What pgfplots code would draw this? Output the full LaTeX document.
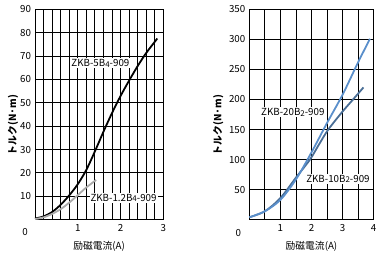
\documentclass[border=0pt]{standalone}
\usepackage{pgfplots}
\pgfplotsset{compat=1.18}
\usepackage{fontspec}
\setmainfont{Noto Sans CJK JP}
\definecolor{lblue}{HTML}{5A8FCB}
\definecolor{dblue}{HTML}{4A6E96}
\definecolor{lgray}{HTML}{AAAAAA}
\newcommand{\sub}[1]{\raisebox{-0.15ex}{\footnotesize #1}}
\newcommand{\fs}{\fontsize{9.8}{11}\selectfont}
\begin{document}
\begin{tikzpicture}
\pgfplotsset{
  common/.style={
    scale only axis, anchor=origin,
    height=210.4bp,
    axis line style={black, line width=0.9bp},
    grid=both,
    major grid style={black, line width=0.9bp},
    minor grid style={black, line width=0.9bp},
    major tick length=0pt, minor tick length=0pt,
    tick label style={font=\fs},
    /pgf/number format/assume math mode=true,
    yticklabel style={xshift=-0.5bp},
    xticklabel style={yshift=-1bp},
    xlabel style={at={(rel axis cs:0.5,0)}, anchor=center, yshift=-27bp, font=\fs},
    clip=false,
  }
}
\path[use as bounding box] (0bp,0bp) rectangle (389bp,257bp);
% Left chart
\begin{axis}[common,
  at={(35bp,37.3bp)}, width=128.3bp,
  xmin=0, xmax=3, ymin=0, ymax=90,
  xtick={0,1,2,3}, xticklabels={,1,2,3},
  minor x tick num=4,
  ytick={0,10,20,30,40,50,60,70,80,90}, yticklabels={,10,20,30,40,50,60,70,80,90},
  xlabel={励磁電流(A)},
]
\addplot[black, line width=1.8bp, smooth] coordinates {
 (0,0.5) (0.2,1.4) (0.4,3.3) (0.6,6.4) (0.8,10.4) (1.0,15.2) (1.2,21.3) (1.4,29.2)
 (1.6,37.6) (1.8,45.6) (2.0,52.9) (2.2,59.5) (2.4,65.7) (2.6,71.3) (2.86,77.5)};
\addplot[lgray, line width=1.8bp, smooth] coordinates {
 (0,0.3) (0.2,1) (0.4,2.5) (0.6,4.5) (0.8,7.3) (1.0,10.5) (1.2,13.8) (1.43,17)};
\node[fill=white, inner sep=1bp, font=\fs] at (axis cs:1.53,67) {ZKB-5B\sub{4}-909};
\node[fill=white, inner sep=1bp, font=\fs] at (axis cs:2.07,9.3) {ZKB-1.2B\sub{4}-909};
\node[font=\fs] at ([xshift=-10bp,yshift=-12bp]rel axis cs:0,0) {0};
\node[rotate=90, font=\bfseries\fs] at ([xshift=-22bp]rel axis cs:0,0.45) {トルク(N·m)};
\end{axis}
% Right chart
\begin{axis}[common,
  at={(249.3bp,37.3bp)}, width=124.4bp,
  xmin=0, xmax=4, ymin=0, ymax=350,
  xtick={0,1,2,3,4}, xticklabels={,1,2,3,4},
  minor x tick num=1,
  ytick={0,50,100,150,200,250,300,350}, yticklabels={,50,100,150,200,250,300,350},
  xlabel={励磁電流(A)},
]
\addplot[dblue, line width=1.8bp, smooth] coordinates {
 (0,4) (0.5,14) (1.0,36) (1.5,70) (1.95,100) (2.25,126) (2.54,150) (3.0,180) (3.37,202) (3.67,220)};
\addplot[lblue, line width=1.8bp, smooth] coordinates {
 (0,4) (0.5,14) (1.0,33) (1.5,67) (2.0,112) (2.5,161) (3.0,208) (3.5,262) (3.88,301)};
\node[fill=white, inner sep=1bp, font=\fs] at (axis cs:1.4,179) {ZKB-20B\sub{2}-909};
\node[fill=white, inner sep=1bp, font=\fs] at (axis cs:2.85,68) {ZKB-10B\sub{2}-909};
\node[font=\fs] at ([xshift=-11bp,yshift=-13bp]rel axis cs:0,0) {0};
\node[rotate=90, font=\bfseries\fs] at ([xshift=-31bp]rel axis cs:0,0.45) {トルク(N·m)};
\end{axis}
\end{tikzpicture}
\end{document}
